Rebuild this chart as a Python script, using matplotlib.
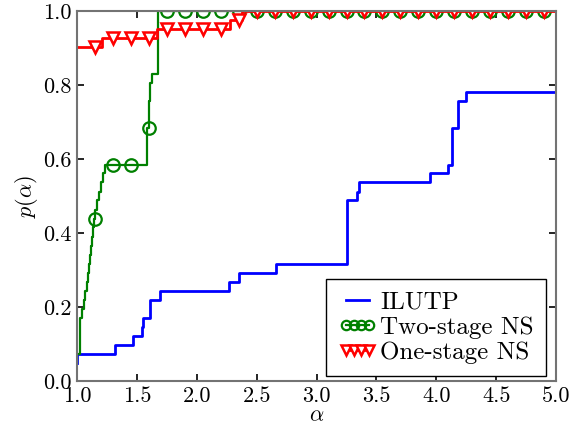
"""
Performance profile: ILUTP vs two-stage / one-stage NS preconditioners.
"""

import matplotlib

matplotlib.use("Agg")
import matplotlib.pyplot as plt
import numpy as np
from matplotlib.lines import Line2D

# step points (alpha, fraction of problems)
ilutp_alpha = [1.000, 1.002, 1.317, 1.470, 1.540, 1.555, 1.610, 1.690, 2.270,
               2.350, 2.660, 3.255, 3.340, 3.355, 3.950, 4.100, 4.130, 4.180,
               4.245, 5.000]
ilutp_p = [0.049, 0.073, 0.098, 0.122, 0.146, 0.171, 0.220, 0.244, 0.268,
           0.293, 0.317, 0.488, 0.512, 0.537, 0.561, 0.585, 0.683, 0.756,
           0.780, 0.780]

two_alpha = [1.000, 1.002, 1.025, 1.039, 1.058, 1.070, 1.080, 1.090, 1.100,
             1.110, 1.117, 1.125, 1.132, 1.140, 1.152, 1.164, 1.186, 1.200,
             1.214, 1.233, 1.588, 1.603, 1.612, 1.625, 1.673, 5.000]
two_p = [0.049, 0.073, 0.171, 0.195, 0.220, 0.244, 0.268, 0.293, 0.317,
         0.341, 0.366, 0.390, 0.415, 0.439, 0.463, 0.488, 0.512, 0.537,
         0.561, 0.585, 0.683, 0.756, 0.805, 0.829, 1.000, 1.000]

one_alpha = [1.000, 1.206, 1.665, 2.276, 2.380, 5.000]
one_p = [0.902, 0.927, 0.951, 0.976, 1.000, 1.000]

# alpha positions where markers are drawn
marker_alpha = np.arange(1.15, 4.95, 0.15)


def step_value(xs, ys, at):
    idx = np.searchsorted(np.asarray(xs), at, side="right") - 1
    return np.asarray(ys)[idx]


plt.rcParams["font.family"] = "serif"
plt.rcParams["font.serif"] = ["cmr10"]
plt.rcParams["mathtext.fontset"] = "cm"
plt.rcParams["axes.formatter.use_mathtext"] = True
plt.rcParams["font.size"] = 16

fig = plt.figure(figsize=(5.74, 4.25), dpi=100)
ax = fig.add_axes([0.134, 0.1035, 0.835, 0.8705])

ax.plot(ilutp_alpha, ilutp_p, drawstyle="steps-post", color="blue", lw=2)
ax.plot(two_alpha, two_p, drawstyle="steps-post", color="green", lw=1.6)
ax.plot(marker_alpha, step_value(two_alpha, two_p, marker_alpha), ls="none",
        marker="o", ms=9, mfc="none", mec="green", mew=1.6)
ax.plot(one_alpha, one_p, drawstyle="steps-post", color="red", lw=2)
ax.plot(marker_alpha, step_value(one_alpha, one_p, marker_alpha), ls="none",
        marker="v", ms=9, mfc="white", mec="red", mew=1.8)

ax.set_xlim(1.0, 5.0)
ax.set_ylim(0.0, 1.0)
ax.set_xticks(np.arange(1.0, 5.01, 0.5))
ax.set_yticks(np.arange(0.0, 1.01, 0.2))
ax.xaxis.set_major_formatter(matplotlib.ticker.FormatStrFormatter("%.1f"))
ax.yaxis.set_major_formatter(matplotlib.ticker.FormatStrFormatter("%.1f"))
ax.tick_params(direction="in", top=True, right=True, length=5, width=1.2,
               labelsize=16, pad=4)
for sp in ax.spines.values():
    sp.set_color("0.45")
    sp.set_linewidth(1.5)

ax.set_xlabel(r"$\alpha$", fontsize=16, labelpad=0)
ax.set_ylabel(r"$p(\alpha)$", fontsize=16, labelpad=2)

handles = [
    Line2D([], [], color="blue", lw=2),
    Line2D([], [], color="green", lw=1.6, marker="o", ms=9, mfc="none", mew=1.6),
    Line2D([], [], color="red", lw=2, marker="v", ms=9, mfc="white", mew=1.8),
]
leg = ax.legend(handles, ["ILUTP", "Two-stage NS", "One-stage NS"],
                loc="lower right", bbox_to_anchor=(0.979, 0.0135),
                numpoints=4, markerscale=0.75,
                handlelength=1.5, handletextpad=0.15, labelspacing=0.1,
                borderaxespad=0.0, fancybox=False, framealpha=1,
                edgecolor="black", fontsize=18, borderpad=0.5)
leg.get_frame().set_linewidth(1.0)

fig.savefig("out.png", dpi=100)
